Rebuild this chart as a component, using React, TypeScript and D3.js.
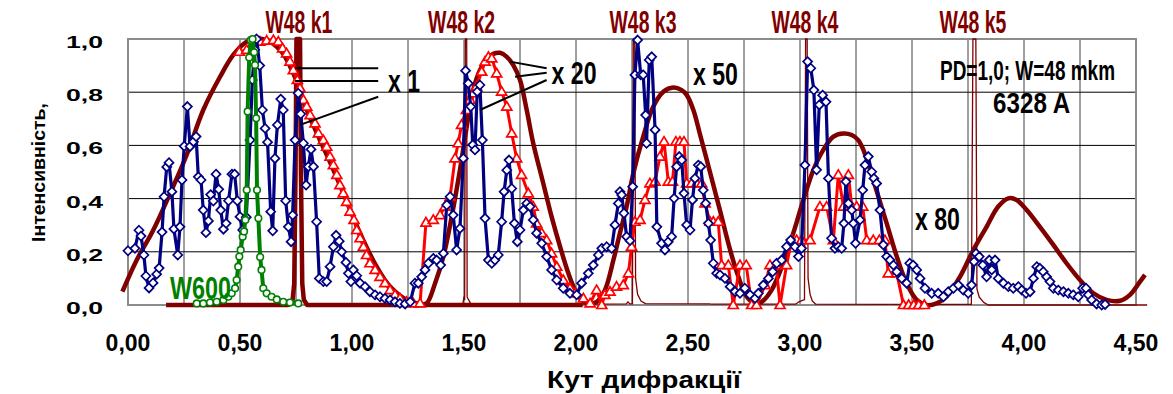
import { useEffect, useRef } from 'react';
import * as d3 from 'd3';

type Pt = [number, number];

// експериментальні дані W48 (сині ромби)
const w48Exp: Pt[] = [
  [0.0, 0.204], [0.031, 0.213], [0.049, 0.281], [0.058, 0.259], [0.071, 0.188], [0.08, 0.109],
  [0.094, 0.064], [0.112, 0.083], [0.128, 0.116], [0.139, 0.139], [0.152, 0.274], [0.161, 0.407],
  [0.173, 0.519], [0.183, 0.535], [0.196, 0.426], [0.205, 0.286], [0.222, 0.188], [0.232, 0.294],
  [0.241, 0.47], [0.251, 0.597], [0.265, 0.746], [0.277, 0.596], [0.292, 0.614], [0.304, 0.633],
  [0.314, 0.482], [0.326, 0.47], [0.336, 0.357], [0.348, 0.272], [0.359, 0.316], [0.369, 0.415],
  [0.381, 0.391], [0.393, 0.492], [0.405, 0.435], [0.414, 0.357], [0.426, 0.285], [0.438, 0.307],
  [0.449, 0.392], [0.464, 0.492], [0.476, 0.492], [0.488, 0.392], [0.5, 0.332], [0.512, 0.282],
  [0.528, 0.33], [0.545, 0.62], [0.555, 0.846], [0.566, 0.96], [0.574, 1.0], [0.588, 0.9],
  [0.6, 0.733], [0.612, 0.664], [0.623, 0.612], [0.637, 0.351], [0.646, 0.279], [0.656, 0.551],
  [0.667, 0.677], [0.682, 0.774], [0.693, 0.733], [0.704, 0.392], [0.716, 0.294], [0.728, 0.238],
  [0.735, 0.338], [0.746, 0.62], [0.76, 0.796], [0.771, 0.718], [0.783, 0.608], [0.795, 0.451],
  [0.805, 0.52], [0.817, 0.585], [0.828, 0.52], [0.842, 0.313], [0.854, 0.1], [0.872, 0.088],
  [0.887, 0.088], [0.902, 0.144], [0.917, 0.219], [0.929, 0.262], [0.943, 0.24], [0.954, 0.2],
  [0.973, 0.16], [0.984, 0.119], [0.995, 0.088], [1.006, 0.132], [1.021, 0.11], [1.036, 0.082],
  [1.058, 0.069], [1.08, 0.05], [1.103, 0.038], [1.125, 0.031], [1.147, 0.025], [1.17, 0.019],
  [1.192, 0.012], [1.214, 0.006], [1.237, 0.004], [1.26, 0.012], [1.281, 0.082], [1.296, 0.082],
  [1.311, 0.106], [1.326, 0.132], [1.341, 0.157], [1.363, 0.175], [1.378, 0.169], [1.396, 0.15],
  [1.408, 0.194], [1.423, 0.376], [1.438, 0.407], [1.452, 0.338], [1.467, 0.207], [1.482, 0.288],
  [1.497, 0.551], [1.507, 0.881], [1.519, 0.833], [1.53, 0.746], [1.539, 0.602], [1.549, 0.583],
  [1.559, 0.802], [1.571, 0.827], [1.582, 0.62], [1.594, 0.326], [1.609, 0.169], [1.624, 0.157],
  [1.638, 0.169], [1.653, 0.188], [1.668, 0.313], [1.679, 0.426], [1.691, 0.507], [1.701, 0.545],
  [1.713, 0.438], [1.725, 0.307], [1.738, 0.238], [1.75, 0.282], [1.765, 0.357], [1.78, 0.382],
  [1.795, 0.37], [1.809, 0.32], [1.824, 0.27], [1.847, 0.232], [1.869, 0.182], [1.891, 0.132],
  [1.914, 0.094], [1.943, 0.063], [1.973, 0.044], [2.003, 0.038], [2.025, 0.082], [2.055, 0.119],
  [2.077, 0.15], [2.1, 0.188], [2.115, 0.213], [2.137, 0.219], [2.159, 0.213], [2.174, 0.301],
  [2.189, 0.382], [2.196, 0.426], [2.204, 0.414], [2.214, 0.345], [2.226, 0.257], [2.241, 0.242],
  [2.253, 0.445], [2.263, 0.865], [2.275, 0.996], [2.289, 0.865], [2.3, 0.865], [2.311, 0.714],
  [2.315, 0.608], [2.327, 0.921], [2.338, 0.933], [2.353, 0.658], [2.361, 0.294], [2.382, 0.232],
  [2.397, 0.207], [2.412, 0.238], [2.427, 0.257], [2.438, 0.401], [2.449, 0.52], [2.461, 0.558],
  [2.472, 0.545], [2.482, 0.42], [2.494, 0.301], [2.509, 0.282], [2.52, 0.395], [2.531, 0.476],
  [2.546, 0.526], [2.557, 0.52], [2.568, 0.432], [2.579, 0.382], [2.591, 0.307], [2.601, 0.244],
  [2.613, 0.157], [2.628, 0.119], [2.643, 0.113], [2.665, 0.1], [2.688, 0.069], [2.71, 0.05],
  [2.732, 0.044], [2.754, 0.063], [2.777, 0.038], [2.799, 0.025], [2.814, 0.044], [2.836, 0.075],
  [2.859, 0.1], [2.878, 0.125], [2.896, 0.157], [2.918, 0.169], [2.94, 0.219], [2.958, 0.244],
  [2.978, 0.219], [2.993, 0.182], [3.007, 0.213], [3.022, 0.526], [3.034, 0.915], [3.048, 0.89],
  [3.062, 0.808], [3.074, 0.508], [3.086, 0.752], [3.101, 0.789], [3.116, 0.764], [3.127, 0.476],
  [3.141, 0.251], [3.156, 0.213], [3.171, 0.219], [3.186, 0.213], [3.196, 0.307], [3.205, 0.464],
  [3.216, 0.382], [3.231, 0.357], [3.238, 0.307], [3.248, 0.232], [3.268, 0.32], [3.28, 0.432],
  [3.29, 0.526], [3.305, 0.558], [3.32, 0.501], [3.33, 0.476], [3.342, 0.457], [3.357, 0.357],
  [3.372, 0.226], [3.387, 0.182], [3.402, 0.169], [3.417, 0.15], [3.432, 0.125], [3.454, 0.1],
  [3.476, 0.082], [3.49, 0.157], [3.505, 0.15], [3.521, 0.132], [3.536, 0.1], [3.558, 0.063],
  [3.588, 0.044], [3.617, 0.044], [3.64, 0.031], [3.662, 0.05], [3.685, 0.063], [3.707, 0.075],
  [3.729, 0.056], [3.751, 0.044], [3.766, 0.075], [3.777, 0.163], [3.786, 0.194], [3.8, 0.182],
  [3.816, 0.15], [3.833, 0.106], [3.845, 0.169], [3.856, 0.132], [3.871, 0.169], [3.885, 0.1],
  [3.908, 0.082], [3.93, 0.069], [3.952, 0.063], [3.975, 0.069], [3.99, 0.056], [4.009, 0.044],
  [4.027, 0.05], [4.042, 0.1], [4.057, 0.144], [4.071, 0.138], [4.086, 0.125], [4.101, 0.106],
  [4.116, 0.088], [4.131, 0.063], [4.153, 0.056], [4.176, 0.05], [4.198, 0.044], [4.22, 0.038],
  [4.242, 0.031], [4.262, 0.063], [4.277, 0.063], [4.287, 0.038], [4.302, 0.019], [4.324, 0.004],
  [4.347, 0.0], [4.362, 0.002],
];

// червоні трикутники
const redTri: Pt[] = [
  [0.497, 0.952], [0.53, 0.959], [0.559, 0.984], [0.589, 0.99], [0.619, 0.994], [0.649, 0.996],
  [0.671, 0.99], [0.69, 0.965], [0.708, 0.946], [0.723, 0.915], [0.738, 0.883], [0.756, 0.846],
  [0.768, 0.815], [0.783, 0.771], [0.798, 0.746], [0.813, 0.714], [0.835, 0.683], [0.85, 0.645],
  [0.872, 0.62], [0.887, 0.595], [0.902, 0.558], [0.917, 0.526], [0.932, 0.489], [0.946, 0.451],
  [0.961, 0.42], [0.976, 0.388], [0.991, 0.351], [1.009, 0.32], [1.021, 0.282], [1.036, 0.251],
  [1.051, 0.219], [1.065, 0.188], [1.08, 0.157], [1.103, 0.132], [1.125, 0.106], [1.147, 0.082],
  [1.17, 0.056], [1.192, 0.038], [1.214, 0.025], [1.244, 0.012], [1.274, 0.006], [1.304, 0.006],
  [1.33, 0.31], [1.363, 0.32], [1.393, 0.338], [1.415, 0.37], [1.438, 0.407], [1.46, 0.551],
  [1.474, 0.608], [1.489, 0.677], [1.511, 0.733], [1.527, 0.771], [1.541, 0.796], [1.556, 0.821],
  [1.579, 0.877], [1.594, 0.915], [1.609, 0.933], [1.624, 0.927], [1.646, 0.871], [1.668, 0.802],
  [1.691, 0.746], [1.713, 0.645], [1.735, 0.551], [1.757, 0.489], [1.787, 0.42], [1.809, 0.37],
  [1.824, 0.307], [1.847, 0.27], [1.869, 0.244], [1.891, 0.194], [1.914, 0.144], [1.943, 0.094],
  [1.973, 0.063], [1.996, 0.044], [2.033, 0.025], [2.063, 0.006], [2.092, 0.056], [2.115, 0.0],
  [2.129, 0.038], [2.152, 0.05], [2.181, 0.069], [2.211, 0.075], [2.234, 0.119], [2.248, 0.219],
  [2.263, 0.313], [2.286, 0.32], [2.308, 0.395], [2.33, 0.457], [2.353, 0.464], [2.375, 0.558],
  [2.393, 0.614], [2.412, 0.464], [2.431, 0.464], [2.446, 0.614], [2.464, 0.614], [2.482, 0.614],
  [2.494, 0.457], [2.516, 0.457], [2.539, 0.457], [2.561, 0.457], [2.576, 0.382], [2.598, 0.313],
  [2.613, 0.313], [2.635, 0.313], [2.65, 0.15], [2.68, 0.15], [2.702, 0.0], [2.732, 0.15],
  [2.76, 0.15], [2.784, 0.0], [2.806, 0.0], [2.844, 0.075], [2.866, 0.15], [2.893, 0.15],
  [2.911, 0.0], [2.94, 0.15], [2.963, 0.244], [2.985, 0.244], [3.007, 0.244], [3.045, 0.244],
  [3.089, 0.37], [3.119, 0.37], [3.149, 0.244], [3.171, 0.489], [3.194, 0.37], [3.216, 0.489],
  [3.231, 0.37], [3.253, 0.37], [3.28, 0.37], [3.298, 0.244], [3.327, 0.244], [3.354, 0.244],
  [3.379, 0.244], [3.394, 0.119], [3.432, 0.119], [3.462, 0.0], [3.485, 0.0], [3.508, 0.0],
  [3.53, 0.0], [3.555, 0.0],
];

// W600 (зелені кружки)
const w600: Pt[] = [
  [0.307, 0.006], [0.336, 0.006], [0.366, 0.009], [0.396, 0.012], [0.426, 0.019], [0.448, 0.031],
  [0.463, 0.044], [0.478, 0.063], [0.485, 0.094], [0.492, 0.144], [0.497, 0.182], [0.503, 0.207],
  [0.512, 0.257], [0.518, 0.276], [0.524, 0.32], [0.53, 0.432], [0.534, 0.727], [0.541, 0.93],
  [0.548, 0.996], [0.556, 1.0], [0.563, 0.95], [0.567, 0.902], [0.572, 0.702], [0.576, 0.432],
  [0.582, 0.326], [0.59, 0.18], [0.596, 0.132], [0.604, 0.063], [0.619, 0.044], [0.641, 0.031],
  [0.664, 0.021], [0.693, 0.012], [0.723, 0.009], [0.76, 0.006],
];

// теоретична огинаюча (x 1, x 20, x 50, x 80)
const envelope: Pt[] = [
  [-0.025, 0.05], [0.039, 0.169], [0.113, 0.282], [0.188, 0.42], [0.262, 0.564], [0.336, 0.733],
  [0.411, 0.858], [0.47, 0.94], [0.53, 0.99], [0.6, 1.0], [0.679, 0.959], [0.738, 0.871],
  [0.798, 0.733], [0.857, 0.62], [0.917, 0.508], [0.976, 0.39], [1.036, 0.27], [1.11, 0.144],
  [1.17, 0.069], [1.244, 0.019], [1.304, 0.004], [1.333, 0.006], [1.371, 0.082], [1.408, 0.182],
  [1.445, 0.332], [1.482, 0.508], [1.512, 0.67], [1.541, 0.808], [1.571, 0.883], [1.601, 0.921],
  [1.631, 0.944], [1.661, 0.948], [1.691, 0.933], [1.72, 0.902], [1.75, 0.846], [1.78, 0.733],
  [1.809, 0.608], [1.854, 0.457], [1.891, 0.332], [1.929, 0.219], [1.966, 0.119], [1.996, 0.056],
  [2.025, 0.019], [2.048, 0.006], [2.092, 0.012], [2.129, 0.056], [2.167, 0.169], [2.196, 0.27],
  [2.226, 0.37], [2.256, 0.495], [2.3, 0.633], [2.345, 0.746], [2.39, 0.802], [2.434, 0.818],
  [2.472, 0.808], [2.494, 0.79], [2.524, 0.733], [2.554, 0.64], [2.598, 0.5], [2.643, 0.355],
  [2.688, 0.207], [2.725, 0.106], [2.762, 0.031], [2.799, 0.006], [2.829, 0.012], [2.873, 0.056],
  [2.925, 0.157], [2.97, 0.27], [3.015, 0.395], [3.06, 0.508], [3.104, 0.583], [3.149, 0.633],
  [3.194, 0.645], [3.231, 0.639], [3.26, 0.62], [3.283, 0.583], [3.313, 0.508], [3.35, 0.407],
  [3.387, 0.307], [3.432, 0.182], [3.476, 0.082], [3.521, 0.019], [3.565, 0.0], [3.61, 0.006],
  [3.654, 0.031], [3.714, 0.106], [3.774, 0.207], [3.833, 0.294], [3.885, 0.37], [3.93, 0.401],
  [3.967, 0.395], [4.012, 0.357], [4.071, 0.294], [4.131, 0.226], [4.19, 0.157], [4.25, 0.094],
  [4.31, 0.044], [4.369, 0.019], [4.429, 0.016], [4.473, 0.038], [4.518, 0.088], [4.54, 0.113],
];

// W48 k1..k5 (вузькі піки)
const k1: Pt[] = [
  [0.17, 0], [0.715, 0], [0.735, 0.02], [0.742, 0.08], [0.748, 0.5], [0.752, 1.0], [0.768, 1.0],
  [0.772, 0.5], [0.778, 0.08], [0.785, 0.02], [0.8, 0], [2.03, 0],
];
const k2: Pt[] = [
  [1.4, 0], [1.495, 0.005], [1.5, 0.03], [1.503, 0.02], [1.506, 1.0], [1.512, 1.0], [1.514, 0.03],
  [1.52, 0.02], [1.53, 0.005], [1.6, 0],
];
const k3: Pt[] = [
  [2.03, 0.003], [2.225, 0.004], [2.232, 0.012], [2.24, 0.004], [2.252, 0.004], [2.256, 1.0],
  [2.262, 1.0], [2.266, 0.1], [2.275, 0.04], [2.29, 0.015], [2.31, 0.005], [2.6, 0.004],
];
const k4: Pt[] = [
  [2.6, 0.003], [2.98, 0.003], [2.995, 0.012], [3.02, 0.02], [3.025, 1.0], [3.032, 1.0], [3.036, 0.1],
  [3.045, 0.04], [3.055, 0.015], [3.07, 0.003], [3.4, 0.002],
];
const k5: Pt[] = [
  [3.4, 0.002], [3.765, 0.002], [3.772, 1.0], [3.785, 1.0], [3.79, 0.06], [3.8, 0.03], [3.82, 0.01],
  [3.84, 0.0], [4.55, 0.0],
];

const kNames = ['W48 k1', 'W48 k2', 'W48 k3', 'W48 k4', 'W48 k5'];
const kLabelX = [0.763, 1.489, 2.299, 3.022, 3.772];

const xTicks = [0, 0.5, 1, 1.5, 2, 2.5, 3, 3.5, 4, 4.5];
const xGrid = d3.range(0, 4.5001, 0.25);
const yTicks = [0, 0.2, 0.4, 0.6, 0.8, 1.0];

// підписи-коефіцієнти
const notes = [
  { text: 'x 1', x: 1.161, y: 0.802, len: 32, size: 31, color: '#000' },
  { text: 'x 20', x: 1.891, y: 0.831, len: 45, size: 31, color: '#000' },
  { text: 'x 50', x: 2.522, y: 0.827, len: 45, size: 31, color: '#000' },
  { text: 'x 80', x: 3.513, y: 0.282, len: 45, size: 31, color: '#000' },
  { text: 'PD=1,0; W=48 mkm', x: 3.625, y: 0.846, len: 175, size: 27, color: '#000' },
  { text: '6328 A', x: 3.862, y: 0.722, len: 77, size: 30, color: '#000' },
  { text: 'W600', x: 0.187, y: 0.024, len: 61, size: 31, color: '#008000' },
];
const pointers: [Pt, Pt][] = [
  [[0.746, 0.89], [1.117, 0.89]],
  [[0.746, 0.842], [1.117, 0.842]],
  [[0.768, 0.677], [1.117, 0.783]],
  [[1.705, 0.915], [1.869, 0.89]],
  [[1.728, 0.858], [1.869, 0.873]],
  [[1.571, 0.733], [1.869, 0.846]],
];

const W = 1173;
const H = 394;
const FONT = "'Liberation Sans', Arial, sans-serif";

export default function App() {
  const ref = useRef<SVGSVGElement | null>(null);

  useEffect(() => {
    if (!ref.current) return;
    const svg = d3.select(ref.current);
    svg.selectAll('*').remove();

    const x = d3.scaleLinear().domain([0, 4.5]).range([128, 1136]);
    const y = d3.scaleLinear().domain([0, 1]).range([305, 39]);

    // сітка
    svg.append('g')
      .selectAll('line')
      .data(xGrid)
      .enter()
      .append('line')
      .attr('x1', (d) => x(d))
      .attr('x2', (d) => x(d))
      .attr('y1', y(0))
      .attr('y2', y(1))
      .attr('stroke', '#404040')
      .attr('stroke-width', 1);
    svg.append('g')
      .selectAll('line')
      .data(yTicks)
      .enter()
      .append('line')
      .attr('x1', x(0))
      .attr('x2', x(4.5))
      .attr('y1', (d) => y(d))
      .attr('y2', (d) => y(d))
      .attr('stroke', '#000')
      .attr('stroke-width', 1);
    svg.append('rect')
      .attr('x', x(0))
      .attr('y', y(1))
      .attr('width', x(4.5) - x(0))
      .attr('height', y(0) - y(1))
      .attr('fill', 'none')
      .attr('stroke', '#8c8c8c')
      .attr('stroke-width', 2);

    // підписи осей
    svg.append('g')
      .selectAll('text')
      .data(yTicks)
      .enter()
      .append('text')
      .attr('x', 103)
      .attr('y', (d) => y(d) + 9)
      .attr('text-anchor', 'end')
      .attr('textLength', 37)
      .attr('lengthAdjust', 'spacingAndGlyphs')
      .style('font', `bold 17px ${FONT}`)
      .text((d) => d3.format('.1f')(d).replace('.', ','));
    svg.append('g')
      .selectAll('text')
      .data(xTicks)
      .enter()
      .append('text')
      .attr('x', (d) => x(d))
      .attr('y', 351)
      .attr('text-anchor', 'middle')
      .style('font', `bold 23px ${FONT}`)
      .text((d) => d3.format('.2f')(d).replace('.', ','));
    svg.append('text')
      .attr('x', 547)
      .attr('y', 388)
      .attr('textLength', 194)
      .attr('lengthAdjust', 'spacingAndGlyphs')
      .style('font', `bold 23px ${FONT}`)
      .text('Кут дифракції');
    svg.append('text')
      .attr('transform', 'translate(45,242) rotate(-90)')
      .attr('textLength', 139)
      .attr('lengthAdjust', 'spacingAndGlyphs')
      .style('font', `bold 18px ${FONT}`)
      .text('Інтенсивність,');

    const line = d3.line<Pt>().x((d) => x(d[0])).y((d) => y(d[1]));
    const smooth = d3.line<Pt>().x((d) => x(d[0])).y((d) => y(d[1])).curve(d3.curveCatmullRom);

    const path = (data: Pt[], color: string, width: number, gen = line) =>
      svg.append('path')
        .attr('d', gen(data))
        .attr('fill', 'none')
        .attr('stroke', color)
        .attr('stroke-width', width)
        .attr('stroke-linejoin', 'round');

    // вузькі піки W48
    path(k1, '#800000', 4.5);
    [k2, k3, k4, k5].forEach((k) => path(k, '#800000', 1.3));

    // огинаюча
    path(envelope, '#800000', 4.5, smooth);

    // червона серія
    path(redTri, '#ff0000', 3);
    svg.append('g')
      .selectAll('path')
      .data(redTri)
      .enter()
      .append('path')
      .attr('d', 'M0,-5L5,3.5L-5,3.5Z')
      .attr('transform', (d) => `translate(${x(d[0])},${y(d[1])})`)
      .attr('fill', '#fff')
      .attr('stroke', '#ff0000')
      .attr('stroke-width', 1.7);

    // синя серія
    path(w48Exp, '#000080', 3.2);
    svg.append('g')
      .selectAll('path')
      .data(w48Exp)
      .enter()
      .append('path')
      .attr('d', 'M0,-4.5L4.5,0L0,4.5L-4.5,0Z')
      .attr('transform', (d) => `translate(${x(d[0])},${y(d[1])})`)
      .attr('fill', '#fff')
      .attr('stroke', '#000080')
      .attr('stroke-width', 1.7);

    // зелена серія W600
    path(w600, '#008000', 4);
    svg.append('g')
      .selectAll('circle')
      .data(w600)
      .enter()
      .append('circle')
      .attr('cx', (d) => x(d[0]))
      .attr('cy', (d) => y(d[1]))
      .attr('r', 3.3)
      .attr('fill', '#fff')
      .attr('stroke', '#008000')
      .attr('stroke-width', 1.6);

    // підписи піків
    svg.append('g')
      .selectAll('text')
      .data(kNames)
      .enter()
      .append('text')
      .attr('x', (_, i) => x(kLabelX[i]))
      .attr('y', 33)
      .attr('text-anchor', 'middle')
      .attr('textLength', 67)
      .attr('lengthAdjust', 'spacingAndGlyphs')
      .attr('fill', '#800000')
      .style('font', `bold 31px ${FONT}`)
      .text((d) => d);

    // виноски
    svg.append('g')
      .selectAll('line')
      .data(pointers)
      .enter()
      .append('line')
      .attr('x1', (d) => x(d[0][0]))
      .attr('y1', (d) => y(d[0][1]))
      .attr('x2', (d) => x(d[1][0]))
      .attr('y2', (d) => y(d[1][1]))
      .attr('stroke', '#000')
      .attr('stroke-width', 2);
    svg.append('g')
      .selectAll('text')
      .data(notes)
      .enter()
      .append('text')
      .attr('x', (d) => x(d.x))
      .attr('y', (d) => y(d.y))
      .attr('textLength', (d) => d.len)
      .attr('lengthAdjust', 'spacingAndGlyphs')
      .attr('fill', (d) => d.color)
      .style('font', (d) => `bold ${d.size}px ${FONT}`)
      .text((d) => d.text);
  }, []);

  return (
    <svg
      ref={ref}
      width={W}
      height={H}
      style={{ position: 'absolute', left: 0, top: 0, background: '#fff', display: 'block' }}
    />
  );
}
